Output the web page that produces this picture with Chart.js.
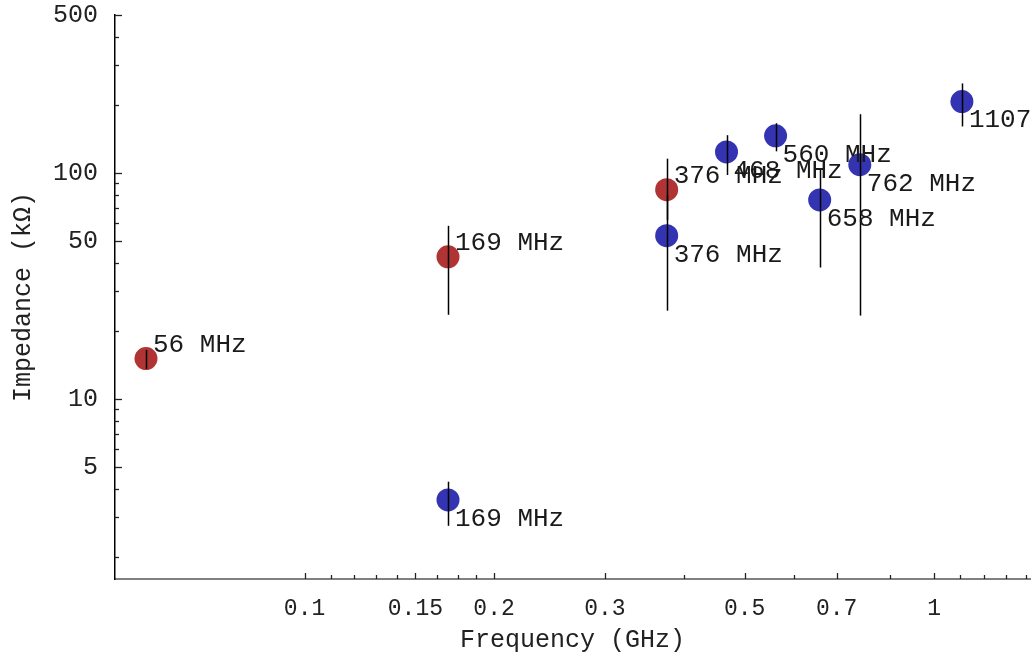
<!DOCTYPE html>
<html>
<head>
<meta charset="utf-8">
<script src="https://cdn.jsdelivr.net/npm/chart.js@4/dist/chart.umd.min.js"></script>
<style>
  html, body { margin: 0; padding: 0; background: #fff; }
  #wrap { width: 1033px; height: 657px; }
</style>
</head>
<body>
<div id="wrap"><canvas id="myChartImpedance"></canvas></div>
<script>
// red series
const redFreq = [0.056, 0.169, 0.376];
const redImp = [15.1, 42.6, 84.4];
const redHigh = [16.5, 58.4, 115.7];
const redLow = [13.6, 23.6, 62];
const redLabels = ['56 MHz', '169 MHz', '376 MHz'];

// blue series
const blueFreq = [0.169, 0.376, 0.468, 0.560, 0.658, 0.762, 1.107];
const blueImp = [3.58, 52.8, 124, 146, 76, 108.8, 207];
const blueHigh = [4.31, 80, 147, 166, 104, 182, 249];
const blueLow = [2.75, 24.6, 98, 124.7, 38.2, 23.4, 160.7];
const blueLabels = ['169 MHz', '376 MHz', '468 MHz', '560 MHz', '658 MHz', '762 MHz', '1107 MHz'];

// ticks
const xTicks = [0.1, 0.11, 0.12, 0.13, 0.14, 0.15, 0.1625, 0.175, 0.1875, 0.2, 0.3, 0.4, 0.5, 0.6, 0.7, 0.85, 1, 1.1, 1.2, 1.3, 1.4];
const xLabeled = [0.1, 0.15, 0.2, 0.3, 0.5, 0.7, 1];
const yTicks = [2, 3, 4, 5, 6, 7, 8, 9, 10, 20, 30, 40, 50, 60, 70, 80, 90, 100, 200, 300, 400, 500];
const yLabeled = [5, 10, 50, 100, 500];

const monoFont = 'Liberation Mono';

const toPoints = (xs, ys) => xs.map((x, i) => ({ x: x, y: ys[i] }));

const errorBars = {
    id: 'errorBars',
    afterDatasetsDraw(chart) {
        const ctx = chart.ctx;
        const xs = chart.scales.x, ys = chart.scales.y;
        const groups = [
            [redFreq, redLow, redHigh],
            [blueFreq, blueLow, blueHigh]
        ];
        ctx.save();
        ctx.strokeStyle = '#000';
        ctx.lineWidth = 1.5;
        groups.forEach(([f, lo, hi]) => {
            f.forEach((v, i) => {
                const px = Math.round(xs.getPixelForValue(v)) + 0.5;
                ctx.beginPath();
                ctx.moveTo(px, ys.getPixelForValue(hi[i]));
                ctx.lineTo(px, ys.getPixelForValue(lo[i]));
                ctx.stroke();
            });
        });

        // point labels
        ctx.fillStyle = '#1a1a1a';
        ctx.font = '26px "' + monoFont + '"';
        ctx.textBaseline = 'middle';
        ctx.textAlign = 'left';
        redFreq.forEach((v, i) => {
            ctx.fillText(redLabels[i], xs.getPixelForValue(v) + 7, ys.getPixelForValue(redImp[i]) - 14);
        });
        blueFreq.forEach((v, i) => {
            ctx.fillText(blueLabels[i], xs.getPixelForValue(v) + 7, ys.getPixelForValue(blueImp[i]) + 19);
        });
        ctx.restore();
    }
};

// tick marks pointing into the plot
const innerTicks = {
    id: 'innerTicks',
    afterDraw(chart) {
        const ctx = chart.ctx;
        const xs = chart.scales.x, ys = chart.scales.y;
        const area = chart.chartArea;
        ctx.save();
        ctx.lineWidth = 1.3;
        ctx.strokeStyle = '#222';
        xs.ticks.forEach(t => {
            const px = Math.round(xs.getPixelForValue(t.value)) + 0.5;
            const len = xLabeled.includes(t.value) ? 6 : 4;
            ctx.beginPath();
            ctx.moveTo(px, area.bottom);
            ctx.lineTo(px, area.bottom - len);
            ctx.stroke();
        });
        ys.ticks.forEach(t => {
            const py = Math.round(ys.getPixelForValue(t.value)) + 0.5;
            const len = yLabeled.includes(t.value) ? 7 : 4;
            ctx.beginPath();
            ctx.moveTo(area.left, py);
            ctx.lineTo(area.left + len, py);
            ctx.stroke();
        });
        ctx.restore();
    }
};

const ctxImp = document.getElementById('myChartImpedance');

new Chart(ctxImp, {
    type: 'scatter',
    data: {
        datasets: [{
            label: 'red',
            data: toPoints(redFreq, redImp),
            backgroundColor: 'rgb(176, 52, 52)',
            borderWidth: 0,
            pointRadius: 11.5,
            pointHoverRadius: 11.5
        }, {
            label: 'blue',
            data: toPoints(blueFreq, blueImp),
            backgroundColor: 'rgb(52, 52, 178)',
            borderWidth: 0,
            pointRadius: 11.5,
            pointHoverRadius: 11.5
        }]
    },
    plugins: [errorBars, innerTicks],
    options: {
        responsive: true,
        maintainAspectRatio: false,
        animation: false,
        layout: {
            autoPadding: false,
            padding: { top: 15, right: 3, left: 0, bottom: 0 }
        },
        scales: {
            x: {
                type: 'logarithmic',
                min: 0.05,
                max: 1.42,
                afterBuildTicks: scale => { scale.ticks = xTicks.map(v => ({ value: v })); },
                afterFit: scale => {
                    scale.height = 78;
                    scale.paddingLeft = 0;
                    scale.paddingRight = 0;
                },
                grid: { display: false },
                border: { display: true, color: '#808080', width: 2 },
                ticks: {
                    autoSkip: false,
                    maxRotation: 0,
                    padding: 8,
                    color: '#222',
                    font: { family: monoFont, size: 23 },
                    callback: v => xLabeled.includes(v) ? String(v) : ''
                },
                title: {
                    display: true,
                    text: 'Frequency (GHz)',
                    color: '#222',
                    font: { family: monoFont, size: 25 },
                    padding: { top: 0, bottom: 2 }
                }
            },
            y: {
                type: 'logarithmic',
                min: 1.6,
                max: 500,
                afterBuildTicks: scale => { scale.ticks = yTicks.map(v => ({ value: v })); },
                afterFit: scale => {
                    scale.width = 115;
                    scale.paddingTop = 0;
                    scale.paddingBottom = 0;
                },
                grid: { display: false },
                border: { display: true, color: '#000', width: 1.5 },
                ticks: {
                    autoSkip: false,
                    padding: 9,
                    color: '#222',
                    font: { family: monoFont, size: 25 },
                    callback: v => yLabeled.includes(v) ? String(v) : ''
                },
                title: {
                    display: true,
                    text: 'Impedance (kΩ)',
                    color: '#222',
                    font: { family: monoFont, size: 25 },
                    padding: { top: 8, bottom: 0 }
                }
            }
        },
        plugins: {
            legend: { display: false },
            tooltip: { enabled: false }
        }
    }
});
</script>
</body>
</html>
